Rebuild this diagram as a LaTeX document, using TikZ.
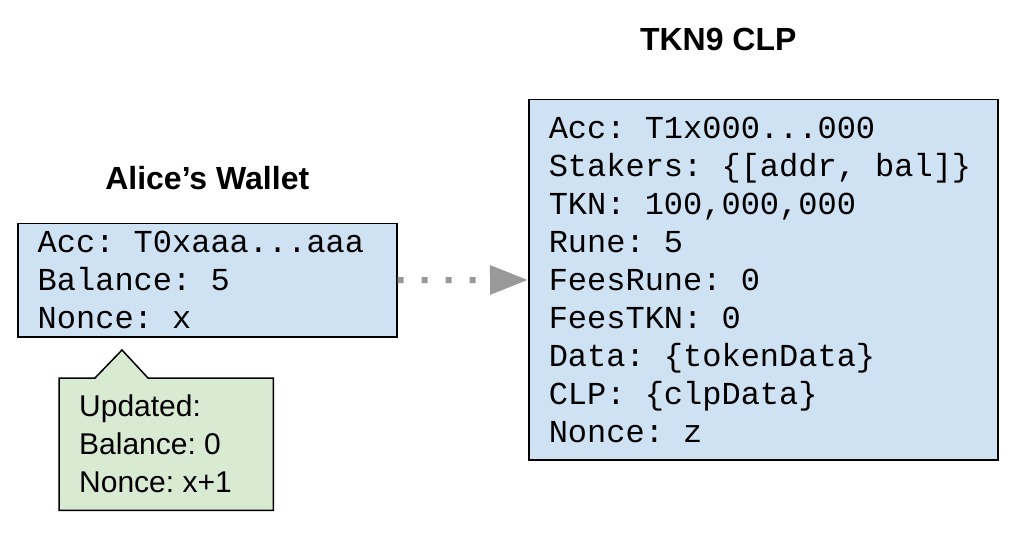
\documentclass[tikz,border=0pt]{standalone}
\usepackage{fontspec}
\setmainfont{Liberation Sans}
\setmonofont{Liberation Mono}
\usetikzlibrary{arrows.meta,positioning,backgrounds}
\definecolor{acctblue}{HTML}{CFE2F3}
\definecolor{notegreen}{HTML}{D9EAD3}
\definecolor{flowgray}{HTML}{999999}

\begin{document}
\begin{tikzpicture}[
        x=1pt, y=-1pt,
        account/.style={rectangle, draw=black, fill=acctblue, line width=1.5pt, anchor=north west,
                        align=flush left, inner xsep=20pt, inner ysep=0pt,
                        font=\fontsize{32}{38}\selectfont\ttfamily\frenchspacing},
        heading/.style={inner sep=0pt, font=\fontsize{32}{36}\selectfont\bfseries},
        note/.style={rectangle, anchor=north west, align=flush left, inner xsep=20pt, inner ysep=0pt,
                     text width=174pt, minimum height=132pt, font=\fontsize{30}{38}\selectfont\frenchspacing},
        flow/.style={-{Triangle[length=38pt, width=28pt]}, color=flowgray, line width=6pt,
                     dash pattern=on 6pt off 18pt}
    ]
        \useasboundingbox (0,0) rectangle (1026,540);
        \node[account, text width=339pt, minimum height=113pt] (wallet) at (17,223)
            {Acc: T0xaaa...aaa \\ Balance: 5 \\ Nonce: x};
        \node[account, text width=429pt, minimum height=360pt] (clp) at (528,99)
            {Acc: T1x000...000 \\ Stakers: \{[addr, bal]\} \\ TKN: 100,000,000 \\ Rune: 5 \\
             FeesRune: 0 \\ FeesTKN: 0 \\ Data: \{tokenData\} \\ CLP: \{clpData\} \\ Nonce: z};
        \node[heading, above=33pt of wallet] (wallettitle) {Alice's Wallet};
        \node[heading, above=48pt of clp, xshift=-45pt] (clptitle) {TKN9 CLP};

        \coordinate (pointer) at (122,350);
        \node[note] (update) at (59,378) {Updated: \\ Balance: 0 \\ Nonce: x+1};
        \begin{scope}[on background layer]
            \draw[line width=1.5pt, fill=notegreen] (update.north west) -- ([xshift=36pt]update.north west)
                -- (pointer) -- ([xshift=89pt]update.north west) -- (update.north east)
                -- (update.south east) -- (update.south west) -- cycle;
        \end{scope}

        \draw[flow] (wallet) -- (clp);
    \end{tikzpicture}
\end{document}
